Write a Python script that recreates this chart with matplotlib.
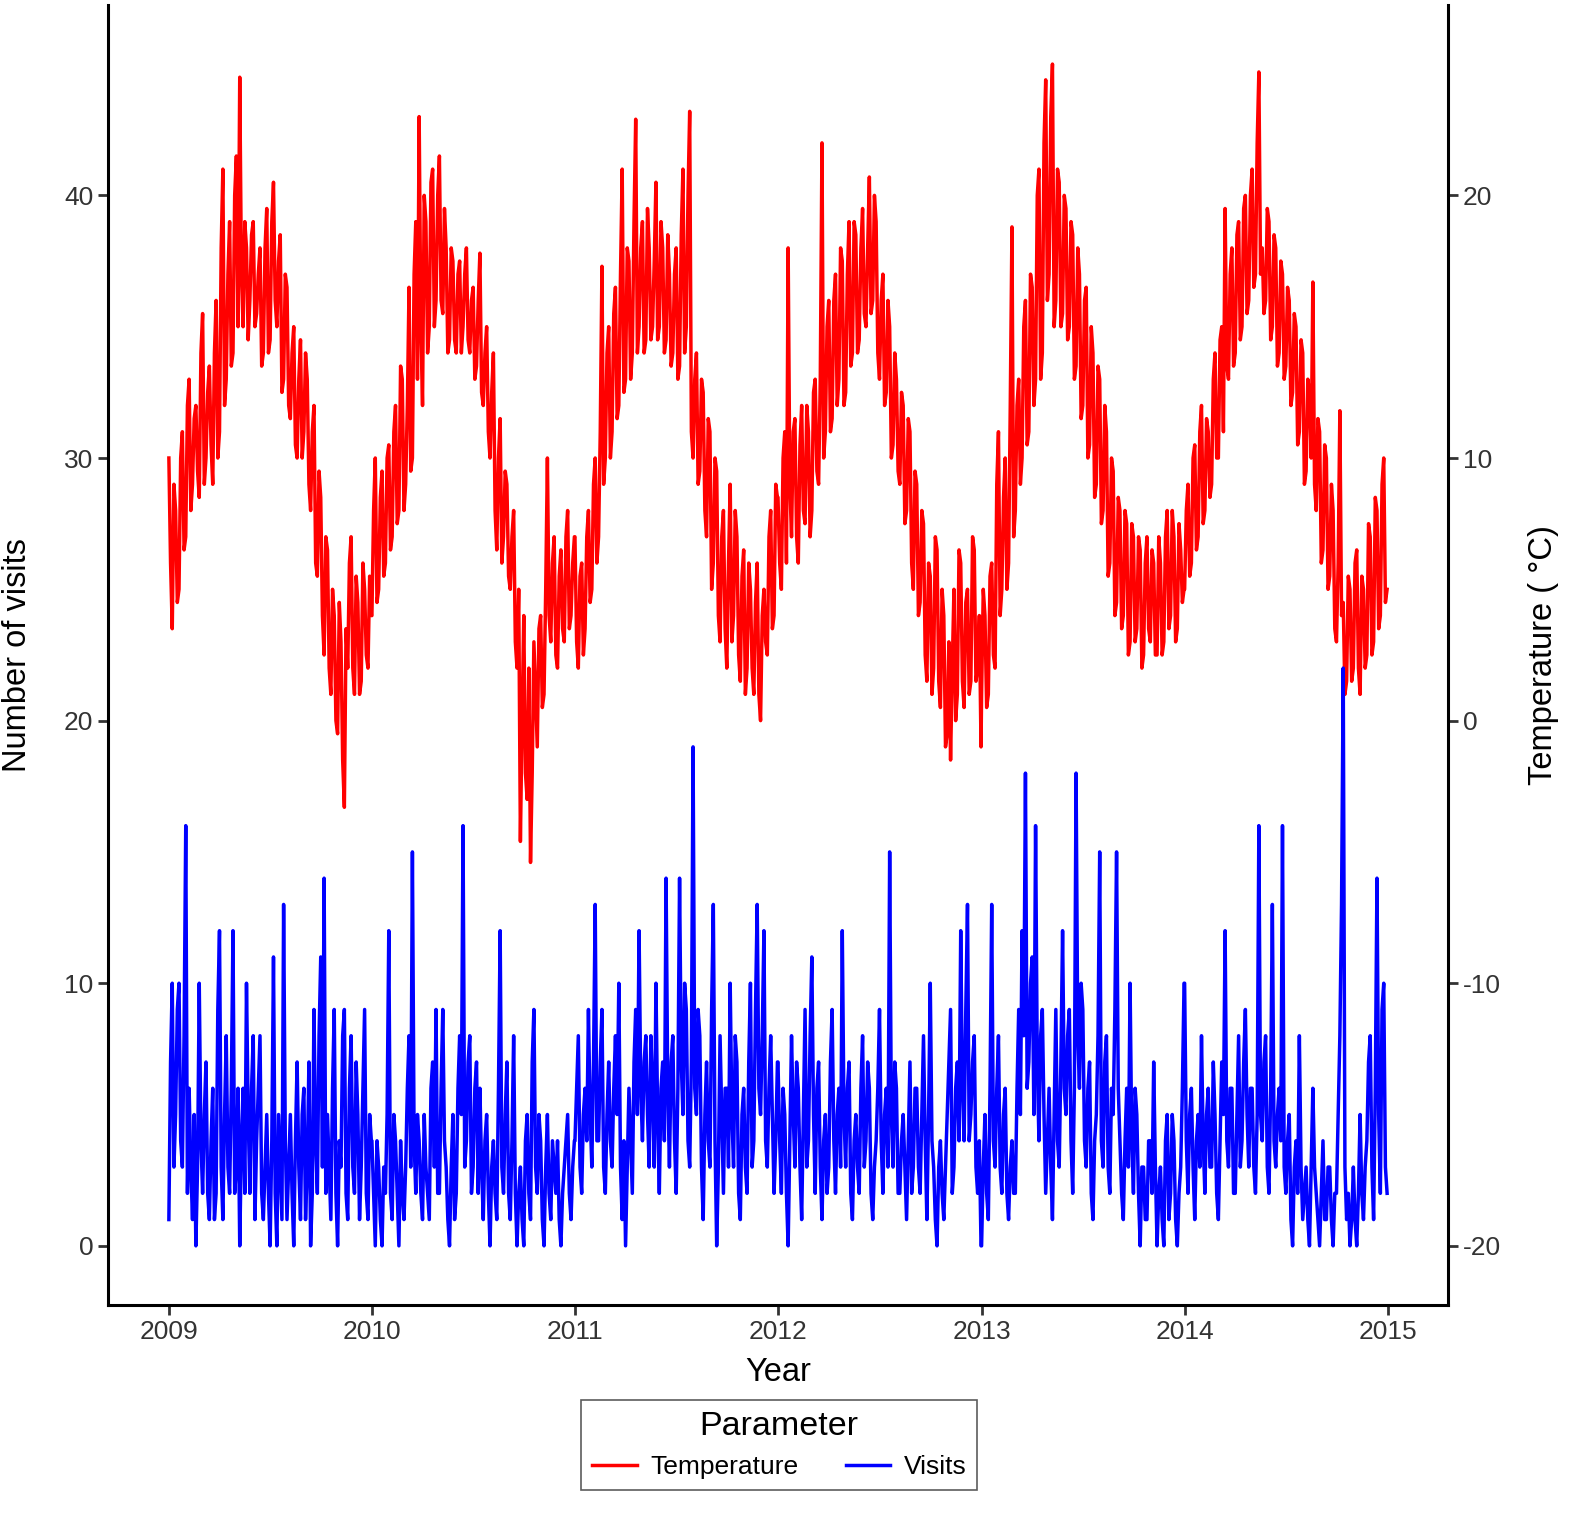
import pandas as pd
import matplotlib.pyplot as plt
import matplotlib.dates as mdates

plt.rcParams['font.family'] = ['Liberation Sans', 'DejaVu Sans']
plt.rcParams['axes.unicode_minus'] = False

# temperature in deg C (about every 3 days, highs and lows of the band)
temp = {
    2009: [10, 6, 3.5, 9, 8, 4.5, 5, 10, 11, 6.5, 7, 12, 13, 8, 9, 11.5, 12, 9.5, 8.5, 14,
           15.5, 9, 10, 12.5, 13.5, 10.5, 9, 14, 16, 10, 11, 18, 21, 12, 13, 17, 19, 13.5, 14, 20,
           21.5, 15, 24.5, 17, 15, 19, 18, 14.5, 16, 18.5, 19, 15, 15.5, 17, 18, 13.5, 14, 18, 19.5, 14,
           14.5, 19, 20.5, 16, 15, 17.5, 18.5, 12.5, 13, 17, 16.5, 12, 11.5, 14, 15, 10.5, 10, 13, 14.5, 10,
           11, 14, 13, 9, 8, 11, 12, 6, 5.5, 9.5, 8.5, 4, 2.5, 7, 6.5, 2, 1, 5, 4, 0,
           -0.5, 4.5, 3, -1.5, -3.3, 3.5, 2, 6, 7, 2, 1, 5.5, 4.5, 1, 1.5, 6, 5, 2.5, 2, 5.5, 4],
    2010: [4, 8, 10, 4.5, 5, 8.5, 9.5, 5.5, 6, 10, 10.5, 6.5, 7, 11, 12, 7.5, 8, 13.5, 13, 8,
           9, 12, 16.5, 9.5, 10, 17, 19, 13, 23, 15, 12, 20, 19, 14, 15, 20.5, 21, 15, 16, 20,
           21.5, 16, 15.5, 19.5, 18, 14, 14.5, 18, 17.5, 14.5, 14, 17, 17.5, 14, 15, 17, 18, 14.5, 14, 16,
           16.5, 13, 13.5, 16, 17.8, 12.5, 12, 14, 15, 11, 10, 12.5, 14, 8, 6.5, 10, 11.5, 6, 7, 9.5,
           9, 5.5, 5, 7, 8, 3, 2, 5, -4.6, 0, 4, -2, -3, 2, -5.4, -2, 3, 1, -1, 3.5,
           4, 0.5, 1, 5, 10, 4, 3, 6, 7, 2.5, 2, 5.5, 6.5, 3.5, 3, 7, 8, 3.5, 4, 6, 7],
    2011: [7, 3, 2, 5.5, 6, 2.5, 3.5, 7, 8, 4.5, 5, 9, 10, 6, 7, 11, 17.3, 9, 10, 14,
           15, 10, 11, 15.5, 16.5, 11.5, 12, 17, 21, 12.5, 13, 18, 17.5, 13, 14, 19, 22.9, 14, 15, 18,
           19, 14, 14.5, 19.5, 18, 14.5, 15, 17.5, 20.5, 14.5, 15, 19, 18, 14, 14.5, 18.5, 17, 13.5, 14, 17,
           18, 13, 13.5, 18.5, 21, 14, 15, 20, 23.2, 11, 10, 13, 14, 9, 9.5, 13, 12.5, 8, 7, 11.5,
           11, 5, 6, 10, 9.5, 4, 3, 7, 8, 3.5, 2, 6, 9, 3, 4, 8, 7, 2.5, 1.5, 5.5,
           6.5, 1, 2, 6, 5, 2, 1, 4.5, 6, 1, 0, 4, 5, 3, 2.5, 7, 8, 3.5, 4, 9, 8.5],
    2012: [8.5, 6, 5, 10, 11, 6, 18, 9, 7, 11, 11.5, 7, 6, 10.5, 12, 8, 7.5, 12, 11, 7,
           8, 12.5, 13, 9.5, 9, 13, 22, 10, 11, 15, 16, 11, 11.5, 16, 17, 12, 13, 18, 17.5, 12,
           12.5, 17, 19, 13.5, 14, 19, 18.5, 14, 14.5, 18, 19.5, 15.5, 15, 18, 20.7, 15.5, 16, 20, 19, 14,
           13, 16, 17, 12, 12.5, 16, 15, 10, 10.5, 14, 13, 9.5, 9, 12.5, 12, 7.5, 8, 11.5, 11, 6,
           5, 9.5, 9, 4, 4.5, 8, 7.5, 2.5, 1.5, 6, 5.5, 1, 2, 7, 6.5, 1.5, 0.5, 5, 4, -1,
           -0.5, 3, -1.5, 2, 5, 0, 1, 6.5, 6, 1.5, 0.5, 4.5, 5, 1, 1.5, 7, 6.5, 1.5, 2, 4, -1],
    2013: [1, 5, 4, 0.5, 1, 5.5, 6, 2.5, 2, 9, 11, 4, 5, 8.5, 10, 5, 6, 12, 18.8, 7,
           8, 12, 13, 9, 10, 15, 16, 10.5, 11, 17, 16.5, 12, 13, 20, 21, 13, 14, 22, 24.4, 16,
           17, 23, 25, 15, 16, 21, 20.5, 15, 15.5, 20, 19.5, 14.5, 15, 19, 18.5, 13, 13.5, 18, 17, 11.5,
           12, 16, 16.5, 10, 10.5, 15, 14, 8.5, 9, 13.5, 13, 7.5, 8, 12, 11, 5.5, 6, 10, 9.5, 4,
           4.5, 8.5, 8, 3.5, 4, 8, 7.5, 2.5, 3, 7.5, 7, 3, 3.5, 7, 6.5, 2, 2.5, 6, 7, 3.5,
           3, 6.5, 6, 2.5, 2.5, 7, 6, 2.5, 3, 7, 8, 3.5, 4, 8, 7, 3, 3.5, 7.5, 6.5, 4.5, 5],
    2014: [5, 8, 9, 5.5, 6, 10, 10.5, 6.5, 7, 11, 12, 7.5, 8, 11.5, 11, 8.5, 9, 13, 14, 10,
           10, 14.5, 15, 11, 19.5, 13.5, 13, 17, 18, 13.5, 14, 18.5, 19, 14.5, 15, 19.5, 20, 15.5, 16, 20,
           21, 16.5, 17, 22, 24.7, 17, 18, 15.5, 16, 19.5, 19, 14.5, 15, 18.5, 18, 13.5, 14, 17.5, 17, 13,
           13.5, 16.5, 16, 12, 12.5, 15.5, 15, 10.5, 11, 14.5, 14, 9, 9.5, 13, 12.5, 10, 16.7, 9, 8, 11.5,
           11, 6, 6.5, 10.5, 10, 5, 5.5, 9, 8, 3.5, 3, 6, 11.8, 4, 4.5, 1, 1.5, 5.5, 5, 1.5,
           2, 6, 6.5, 2, 1, 5.5, 5, 2, 2.5, 7.5, 7, 2.5, 3, 8.5, 8, 3.5, 4, 9, 10, 4.5, 5],
}

# number of visits
visits = {
    2009: [1, 7, 10, 3, 5, 9, 10, 4, 3, 8, 16, 2, 6, 3, 1, 5, 0, 3, 10, 4,
           2, 5, 7, 2, 1, 4, 6, 1, 2, 9, 12, 3, 1, 5, 8, 3, 2, 6, 12, 2,
           3, 6, 0, 4, 6, 2, 10, 5, 2, 6, 8, 1, 4, 6, 8, 2, 1, 3, 5, 2,
           0, 4, 11, 2, 0, 5, 3, 1, 13, 4, 1, 3, 5, 2, 0, 4, 7, 3, 1, 5,
           6, 1, 3, 7, 0, 2, 9, 4, 2, 8, 11, 3, 14, 2, 5, 3, 1, 6, 9, 2,
           0, 4, 3, 8, 9, 2, 1, 6, 8, 3, 2, 7, 5, 1, 3, 6, 9, 2, 1, 5, 4],
    2010: [4, 2, 0, 4, 3, 1, 0, 3, 2, 5, 12, 2, 1, 5, 4, 2, 0, 4, 2, 1,
           3, 6, 8, 3, 15, 4, 2, 5, 4, 2, 1, 5, 3, 2, 1, 6, 7, 3, 9, 2,
           2, 6, 9, 4, 3, 1, 0, 3, 5, 1, 2, 6, 8, 5, 16, 3, 4, 7, 8, 2,
           3, 6, 7, 2, 6, 3, 1, 4, 5, 2, 0, 3, 4, 2, 1, 6, 12, 3, 2, 5,
           7, 2, 1, 4, 8, 2, 0, 2, 3, 1, 0, 4, 5, 2, 1, 7, 9, 3, 2, 5,
           4, 1, 0, 3, 5, 2, 1, 4, 3, 2, 4, 1, 0, 2, 3, 4, 5, 2, 1, 3, 4],
    2011: [4, 6, 8, 3, 2, 5, 6, 4, 9, 5, 3, 7, 13, 4, 4, 7, 9, 3, 2, 5,
           7, 4, 3, 6, 8, 5, 10, 3, 1, 4, 0, 3, 6, 4, 2, 7, 9, 5, 12, 6,
           4, 7, 8, 5, 3, 8, 6, 3, 10, 5, 2, 6, 7, 4, 14, 6, 3, 7, 8, 4,
           2, 6, 14, 7, 5, 10, 9, 4, 3, 7, 19, 6, 5, 9, 8, 3, 1, 5, 7, 4,
           3, 9, 13, 4, 0, 3, 8, 5, 2, 6, 6, 3, 10, 5, 3, 8, 7, 2, 1, 5,
           6, 3, 2, 7, 10, 3, 4, 9, 13, 6, 5, 8, 12, 4, 3, 6, 8, 5, 2, 4, 7],
    2012: [7, 4, 2, 6, 5, 2, 0, 4, 8, 5, 3, 7, 6, 3, 1, 5, 9, 3, 4, 8,
           11, 5, 2, 6, 7, 3, 1, 4, 5, 2, 3, 7, 9, 4, 2, 5, 6, 3, 12, 5,
           3, 6, 7, 2, 1, 4, 5, 3, 2, 6, 8, 3, 4, 7, 6, 2, 1, 3, 4, 6,
           9, 4, 2, 5, 6, 3, 15, 5, 3, 7, 6, 2, 2, 4, 5, 3, 1, 4, 7, 2,
           3, 6, 6, 3, 2, 5, 8, 4, 1, 5, 10, 4, 3, 1, 0, 3, 4, 2, 1, 3,
           5, 7, 9, 2, 3, 6, 7, 4, 12, 6, 4, 9, 13, 4, 5, 7, 8, 3, 2, 4, 0],
    2013: [0, 3, 5, 2, 1, 6, 13, 4, 3, 6, 8, 3, 2, 5, 6, 2, 1, 3, 4, 2,
           2, 6, 9, 5, 12, 8, 18, 6, 7, 10, 11, 5, 16, 7, 4, 8, 9, 5, 2, 4,
           6, 3, 1, 5, 9, 4, 3, 7, 12, 6, 5, 8, 9, 4, 2, 6, 18, 8, 6, 10,
           9, 4, 3, 6, 7, 2, 1, 4, 5, 8, 15, 4, 3, 7, 8, 3, 2, 6, 5, 9,
           15, 6, 4, 2, 1, 4, 6, 3, 10, 4, 2, 6, 5, 2, 0, 3, 3, 1, 1, 4,
           4, 2, 7, 3, 0, 2, 3, 1, 0, 4, 5, 1, 2, 5, 4, 1, 0, 2, 3, 6, 10],
    2014: [10, 4, 2, 5, 6, 3, 1, 4, 5, 3, 8, 4, 2, 5, 6, 3, 3, 7, 5, 2,
           1, 4, 7, 5, 12, 4, 3, 6, 6, 2, 2, 5, 8, 3, 4, 7, 9, 5, 3, 6,
           6, 3, 2, 5, 16, 5, 4, 7, 8, 3, 2, 6, 13, 4, 3, 5, 6, 4, 16, 3,
           2, 4, 5, 1, 0, 3, 4, 2, 8, 3, 1, 2, 3, 1, 0, 3, 6, 3, 2, 1,
           0, 2, 4, 1, 1, 3, 3, 1, 0, 2, 2, 5, 8, 13, 22, 3, 1, 2, 0, 1,
           3, 1, 0, 2, 5, 2, 1, 3, 4, 7, 8, 3, 1, 6, 14, 5, 2, 9, 10, 3, 2],
}

offset = 20  # right axis (deg C) = left axis - 20


def to_series(d):
    parts = []
    for yr, vals in d.items():
        idx = pd.date_range(f"{yr}-01-01", f"{yr}-12-31", periods=len(vals))
        parts.append(pd.Series(vals, index=idx, dtype=float))
    return pd.concat(parts)


t = to_series(temp)
v = to_series(visits)

fig = plt.figure(figsize=(15.9, 15.17), dpi=100)
ax = fig.add_axes([0.0679, 0.1398, 0.8428, 0.8569])

ax.plot(t.index, t.values + offset, color="#FF0000", lw=2.5, label="Temperature")
ax.plot(v.index, v.values, color="#0000FF", lw=2.5, label="Visits")

# ggplot-like 5% expansion
lo = min(v.min(), t.min() + offset)
hi = max(v.max(), t.max() + offset)
pad = (hi - lo) * 0.05
ax.set_ylim(lo - pad, hi + pad)
x0 = mdates.date2num(t.index[0])
x1 = mdates.date2num(t.index[-1])
ax.set_xlim(x0 - (x1 - x0) * 0.05, x1 + (x1 - x0) * 0.05)

ax.set_yticks([0, 10, 20, 30, 40])
ax.xaxis.set_major_locator(mdates.YearLocator())
ax.xaxis.set_major_formatter(mdates.DateFormatter("%Y"))

sec = ax.secondary_yaxis("right", functions=(lambda y: y - offset, lambda y: y + offset))
sec.set_yticks([-20, -10, 0, 10, 20])

for a in (ax, sec):
    a.tick_params(labelsize=19, length=7, width=2, color="#333333", labelcolor="#333333")
ax.spines["top"].set_visible(False)
ax.spines["right"].set_visible(False)
for s in ("left", "bottom"):
    ax.spines[s].set_linewidth(2.2)
sec.spines["right"].set_linewidth(2.2)

ax.set_xlabel("Year", fontsize=23.5, labelpad=10)
ax.set_ylabel("Number of visits", fontsize=23.5, labelpad=22)
sec.set_ylabel("Temperature ( °C)", fontsize=23.5, labelpad=20, rotation=90)

leg = fig.legend(loc="upper center", bbox_to_anchor=(0.49, 0.0855), ncol=2,
                 title="Parameter", fontsize=19, title_fontsize=24.5,
                 frameon=True, fancybox=False, edgecolor="#333333",
                 handlelength=1.7, handletextpad=0.5, columnspacing=1.8,
                 borderpad=0.4)
leg.get_frame().set_linewidth(1.2)

fig.savefig("out.png", dpi=100)
